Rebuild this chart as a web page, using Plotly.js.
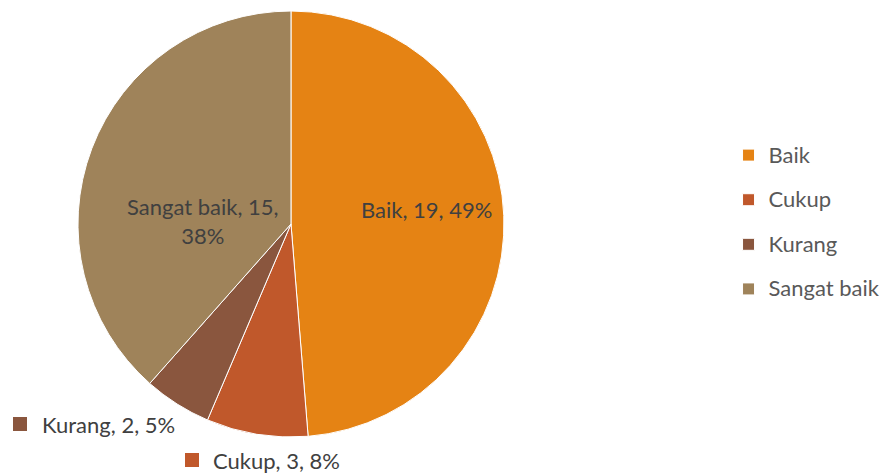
<!DOCTYPE html>
<html>
<head>
<meta charset="utf-8">
<script src="https://cdn.plot.ly/plotly-3.0.1.min.js"></script>
<style>html,body{margin:0;padding:0;background:#fff;}#chart{width:882px;height:473px;}</style>
</head>
<body>
<div id="chart"></div>
<script>
const categories = ["Baik", "Cukup", "Kurang", "Sangat baik"];
const counts = [19, 3, 2, 15];
const percentLabels = ["49%", "8%", "5%", "38%"];
const sliceColors = ["#E58314", "#C0582B", "#8A563E", "#9F835A"];

const FONT = "Lato, 'Open Sans', sans-serif";
const W = 882, H = 473;
const px = v => v / W;
const py = v => 1 - v / H;

// label placement (pixel positions of Excel-style data labels)
const labelPos = [
  { x: 426, y: 210, anchor: "center", key: false },
  { x: 211, y: 460, anchor: "left", key: true, kx: 185 },
  { x: 40,  y: 424, anchor: "left", key: true, kx: 13 },
  { x: 203, y: 221, anchor: "center", key: false }
];

const labelText = categories.map((c, i) =>
  c === "Sangat baik"
    ? c + ", " + counts[i] + ",<br>" + percentLabels[i]
    : c + ", " + counts[i] + ", " + percentLabels[i]
);

const legendLabels = categories.map(c =>
  "<span style='font-size:22px;baseline-shift:5px'>" + c + "</span>");

const trace = {
  type: "pie",
  labels: legendLabels,
  values: counts,
  sort: false,
  direction: "clockwise",
  rotation: 0,
  textinfo: "none",
  marker: { colors: sliceColors, line: { color: "#ffffff", width: 1 } },
  domain: { x: [0.0884, 0.5714], y: [0.0761, 0.9767] },
  automargin: false,
  hoverinfo: "none"
};

const annotations = labelPos.map((p, i) => ({
  xref: "paper", yref: "paper",
  x: px(p.x), y: py(p.y),
  xanchor: p.anchor, yanchor: "middle",
  text: labelText[i],
  showarrow: false,
  align: "center",
  font: { family: FONT, size: 22, color: "#404040" }
}));

const shapes = labelPos.filter(p => p.key).map(p => {
  const i = labelPos.indexOf(p);
  return {
    type: "rect", xref: "paper", yref: "paper",
    x0: px(p.kx), x1: px(p.kx + 14),
    y0: py(p.y + 7), y1: py(p.y - 7),
    fillcolor: sliceColors[i], line: { width: 0 }
  };
});

const layout = {
  width: W,
  height: H,
  margin: { l: 0, r: 0, t: 0, b: 0, autoexpand: false },
  paper_bgcolor: "#ffffff",
  showlegend: true,
  legend: {
    x: 0.826, y: 0.53, xanchor: "left", yanchor: "middle",
    font: { family: FONT, size: 32, color: "#595959" },
    bgcolor: "rgba(0,0,0,0)"
  },
  annotations: annotations,
  shapes: shapes
};

Plotly.newPlot("chart", [trace], layout, { displayModeBar: false, staticPlot: true });
</script>
</body>
</html>
